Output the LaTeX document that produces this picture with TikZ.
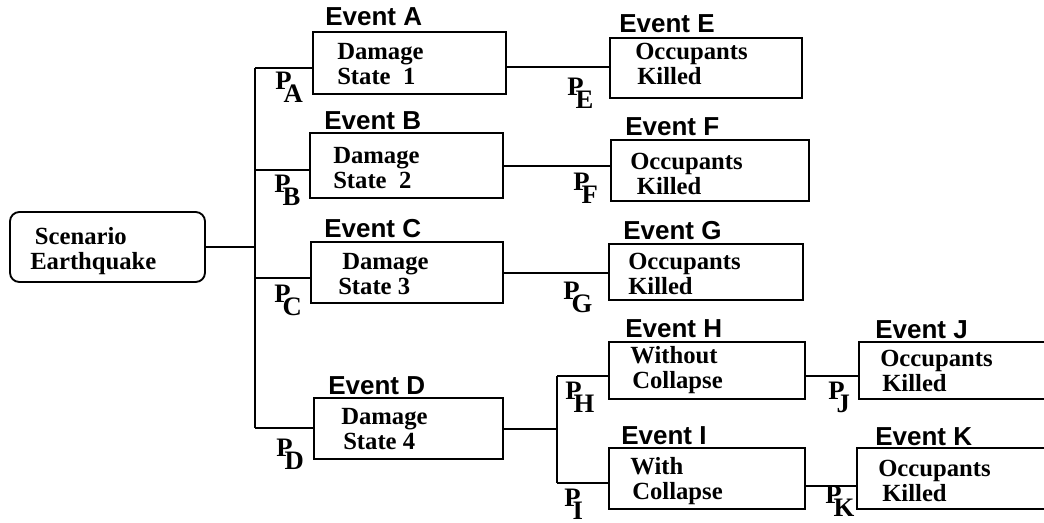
\documentclass[tikz,border=0pt]{standalone}
\usepackage{fontspec}
\setmainfont{Liberation Serif}
\newfontfamily\evfont{Liberation Sans}
\usetikzlibrary{fit}
\newcommand\plab[1]{P\kern-6pt\raisebox{-9.75pt}{#1}}
\begin{document}
\begin{tikzpicture}[x=0.75pt,y=-0.75pt,
  boxst/.style={draw, line width=1.4pt, inner sep=0pt},
  txt/.style={anchor=north west, inner sep=0pt, align=left, font=\fontsize{18.5}{18.75}\selectfont\bfseries},
  evt/.style={anchor=north west, inner sep=0pt, font=\evfont\fontsize{19.5}{20}\selectfont\bfseries},
  prob/.style={anchor=north west, inner sep=0pt, font=\fontsize{20}{20}\selectfont\bfseries},
  conn/.style={line width=1.4pt}]
\useasboundingbox (0,0) rectangle (1044,522);
\clip (0,0) rectangle (1044,522);
% boxes
\node[boxst, rounded corners=7pt, fit={(10,212) (205,282)}] (S) {};
\node[boxst, fit={(313,32) (506,94)}] (A) {};
\node[boxst, fit={(310,133) (503,198)}] (B) {};
\node[boxst, fit={(311,242) (503,303)}] (C) {};
\node[boxst, fit={(314,398) (503,459)}] (D) {};
\node[boxst, fit={(610,38) (802,98)}] (E) {};
\node[boxst, fit={(611,140) (809,201)}] (F) {};
\node[boxst, fit={(609,244) (803,300)}] (G) {};
\node[boxst, fit={(609,342) (805,399)}] (H) {};
\node[boxst, fit={(609,448) (805,509)}] (I) {};
\node[boxst, fit={(859,342) (1054,399)}] (J) {};
\node[boxst, fit={(857,448) (1054,509)}] (K) {};
% connectors
\coordinate (tA) at (255,68);
\coordinate (tB) at (255,170);
\coordinate (tC) at (255,278);
\coordinate (tD) at (255,428);
\draw[conn] (S.east) -- (S.east -| tA);
\draw[conn] (tA) -- (tD);
\draw[conn] (tA) -- (tA -| A.west);
\draw[conn] (tB) -- (tB -| B.west);
\draw[conn] (tC) -- (tC -| C.west);
\draw[conn] (tD) -- (tD -| D.west);
\coordinate (yAE) at (0,67);
\coordinate (yBF) at (0,166);
\coordinate (yCG) at (0,273);
\draw[conn] (A.east |- yAE) -- (E.west |- yAE);
\draw[conn] (B.east |- yBF) -- (F.west |- yBF);
\draw[conn] (C.east |- yCG) -- (G.west |- yCG);
\coordinate (vD) at (557,429);
\coordinate (vH) at (557,376);
\coordinate (vI) at (557,483);
\coordinate (yIK) at (0,486);
\draw[conn] (D.east |- vD) -- (vD);
\draw[conn] (vH) -- (vI);
\draw[conn] (vH) -- (vH -| H.west);
\draw[conn] (vI) -- (vI -| I.west);
\draw[conn] (H.east |- vH) -- (J.west |- vH);
\draw[conn] (I.east |- yIK) -- (K.west |- yIK);
% box texts
\node[txt] (St) at (30,227) {\hspace*{3.5pt}Scenario\\Earthquake};
\node[txt] (At) at (337,43) {Damage\\State~~1};
\node[txt] (Bt) at (333,147) {Damage\\State~~2};
\node[txt] (Ct) at (338,253) {\hspace*{3pt}Damage\\State 3};
\node[txt] (Dt) at (341,408) {Damage\\\hspace*{1.5pt}State 4};
\node[txt] (Et) at (635,43) {Occupants\\\hspace*{1.5pt}Killed};
\node[txt] (Ft) at (630,153) {Occupants\\\hspace*{5pt}Killed};
\node[txt] (Gt) at (628,253) {Occupants\\Killed};
\node[txt] (Ht) at (630,346) {Without\\\hspace*{1.5pt}Collapse};
\node[txt] (It) at (630,457) {With\\\hspace*{1.5pt}Collapse};
\node[txt] (Jt) at (880,350) {Occupants\\\hspace*{1.5pt}Killed};
\node[txt] (Kt) at (878,460) {Occupants\\\hspace*{3pt}Killed};
% event labels
\node[evt] (eA) at (325,7) {Event A};
\node[evt] (eB) at (324,111) {Event B};
\node[evt] (eC) at (324,219) {Event C};
\node[evt] (eD) at (328,376) {Event D};
\node[evt] (eE) at (619,14) {Event E};
\node[evt] (eF) at (625,117) {Event F};
\node[evt] (eG) at (623,221) {Event G};
\node[evt] (eH) at (625,319) {Event H};
\node[evt] (eI) at (621,426) {Event I};
\node[evt] (eJ) at (875,320) {Event J};
\node[evt] (eK) at (875,427) {Event K};
% probabilities
\node[prob] (pA) at (275,72) {\plab{A}};
\node[prob] (pB) at (274,175) {\plab{B}};
\node[prob] (pC) at (274,285) {\plab{C}};
\node[prob] (pD) at (276,439) {\plab{D}};
\node[prob] (pE) at (567,78) {\plab{E}};
\node[prob] (pF) at (573,173) {\plab{F}};
\node[prob] (pG) at (563,282) {\plab{G}};
\node[prob] (pH) at (565,382) {\plab{H}};
\node[prob] (pI) at (564,489) {\plab{I}};
\node[prob] (pJ) at (828,382) {\plab{J}};
\node[prob] (pK) at (825,486) {\plab{K}};
\end{tikzpicture}
\end{document}
